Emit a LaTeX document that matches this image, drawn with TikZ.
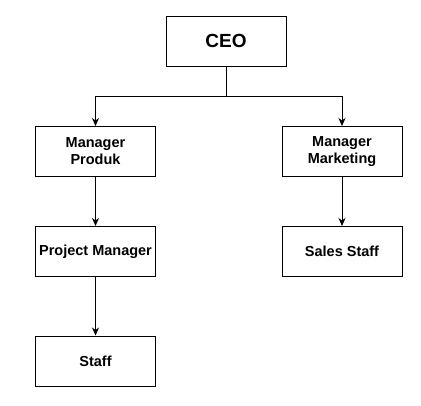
\documentclass[tikz,border=0pt]{standalone}
\usepackage{fontspec}
\setmainfont{Liberation Sans}
\usetikzlibrary{arrows.meta}
\begin{document}
\begin{tikzpicture}[x=1pt,y=-1pt,
  box/.style={draw=black,line width=1pt,minimum width=120pt,minimum height=50pt,inner sep=0pt,align=center,font=\fontsize{14.5}{17}\selectfont\bfseries},
  conn/.style={draw=black,line width=1pt},
  arr/.style={conn,-{Stealth[length=8pt,width=7pt,inset=2.5pt]}}]
\useasboundingbox (0,0) rectangle (421,405);
\node[box,font=\fontsize{19}{22}\selectfont\bfseries] (ceo) at (226,41) {CEO};
\node[box] (mp) at (95.5,151.5) {Manager\\Produk};
\node[box] (mm) at (342,151.5) {Manager\\Marketing};
\node[box] (pm) at (95.5,251.5) {Project Manager};
\node[box] (ss) at (342,251.5) {Sales Staff};
\node[box] (st) at (95.5,361) {Staff};
\coordinate (j) at (226,96);
\draw[conn] (ceo.south) -- (j);
\draw[arr] (j) -| (mp.north);
\draw[arr] (j) -| (mm.north);
\draw[arr] (mp) -- (pm);
\draw[arr] (mm) -- (ss);
\draw[arr] (pm) -- (st);
\end{tikzpicture}
\end{document}
